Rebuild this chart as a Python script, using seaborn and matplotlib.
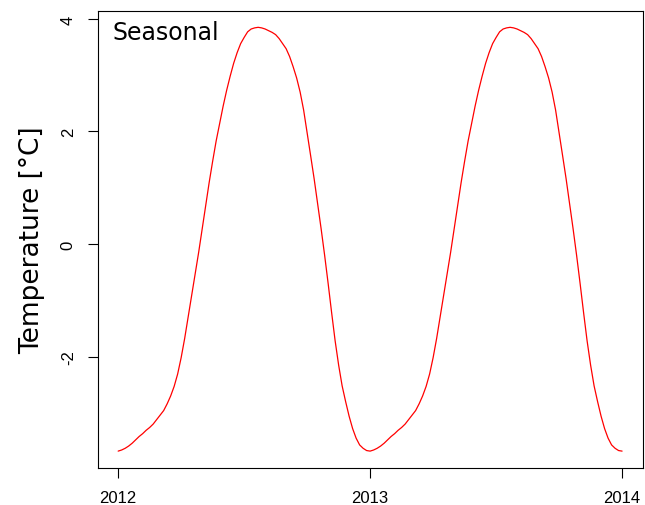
import pandas as pd
import numpy as np
import matplotlib
matplotlib.use('Agg')
import matplotlib.pyplot as plt
import seaborn as sns

# Seasonal component, 72 steps per year (~5 days)
seasonal_2012 = [
    -3.68, -3.66, -3.63, -3.59, -3.54, -3.48, -3.42, -3.37, -3.31, -3.26,
    -3.20, -3.12, -3.04, -2.96, -2.84, -2.70, -2.53, -2.31, -2.02, -1.68,
    -1.30, -0.93, -0.53, -0.15, 0.26, 0.68, 1.09, 1.47, 1.83, 2.14,
    2.45, 2.73, 2.98, 3.21, 3.40, 3.56, 3.67, 3.77, 3.82, 3.84,
    3.85, 3.84, 3.82, 3.79, 3.76, 3.72, 3.65, 3.56, 3.47, 3.33,
    3.15, 2.95, 2.70, 2.38, 1.98, 1.57, 1.16, 0.72, 0.27, -0.20,
    -0.70, -1.22, -1.72, -2.15, -2.52, -2.80, -3.06, -3.28, -3.45, -3.57,
    -3.63, -3.67,
]
seasonal_2013 = [
    -3.68, -3.66, -3.63, -3.59, -3.54, -3.48, -3.42, -3.37, -3.31, -3.26,
    -3.20, -3.12, -3.04, -2.96, -2.84, -2.70, -2.53, -2.31, -2.02, -1.68,
    -1.30, -0.93, -0.53, -0.15, 0.26, 0.68, 1.09, 1.47, 1.83, 2.14,
    2.45, 2.73, 2.98, 3.21, 3.40, 3.56, 3.67, 3.77, 3.82, 3.84,
    3.85, 3.84, 3.82, 3.79, 3.76, 3.72, 3.65, 3.56, 3.47, 3.33,
    3.15, 2.95, 2.70, 2.38, 1.98, 1.57, 1.16, 0.72, 0.27, -0.20,
    -0.70, -1.22, -1.72, -2.15, -2.52, -2.80, -3.06, -3.28, -3.45, -3.57,
    -3.63, -3.67,
]
seasonal_2014_start = [-3.68]

seasonal = seasonal_2012 + seasonal_2013 + seasonal_2014_start
decimal_year = [2012 + k / 72 for k in range(len(seasonal))]

x_ticks = [2012, 2013, 2014]
x_tick_labels = ['2012', '2013', '2014']
y_ticks = [-2, 0, 2, 4]

df = pd.DataFrame({'year': decimal_year, 'temp': seasonal})

sns.set_theme(style='ticks')
plt.rcParams['font.family'] = ['DejaVu Sans']
plt.rcParams['text.color'] = 'black'
plt.rcParams['axes.labelcolor'] = 'black'
plt.rcParams['xtick.color'] = 'black'
plt.rcParams['ytick.color'] = 'black'

fig = plt.figure(figsize=(6.45, 5.06), dpi=100)
ax = fig.add_axes([98 / 645, 1 - 469 / 506, 545 / 645, 457 / 506])

sns.lineplot(data=df, x='year', y='temp', color='red', linewidth=0.9, ax=ax)

ax.set_xlim(2011.92, 2014.083)
ax.set_ylim(-3.98, 4.14)
ax.set_xticks(x_ticks)
ax.set_xticklabels(x_tick_labels, fontfamily='Liberation Sans', fontsize=12)
ax.set_yticks(y_ticks)
ax.set_yticklabels([str(v) for v in y_ticks], fontfamily='Liberation Sans',
                   fontsize=12, rotation=90, va='center')
ax.tick_params(axis='both', length=7, width=0.8, color='black', pad=9)
for s in ax.spines.values():
    s.set_linewidth(0.8)
    s.set_color('black')

ax.set_xlabel('')
ax.set_ylabel('Temperature [°C]', fontsize=19, labelpad=11)
ax.text(0.0275, 0.939, 'Seasonal', transform=ax.transAxes, fontsize=17,
        va='baseline', ha='left')

fig.savefig('out.png', dpi=100)
